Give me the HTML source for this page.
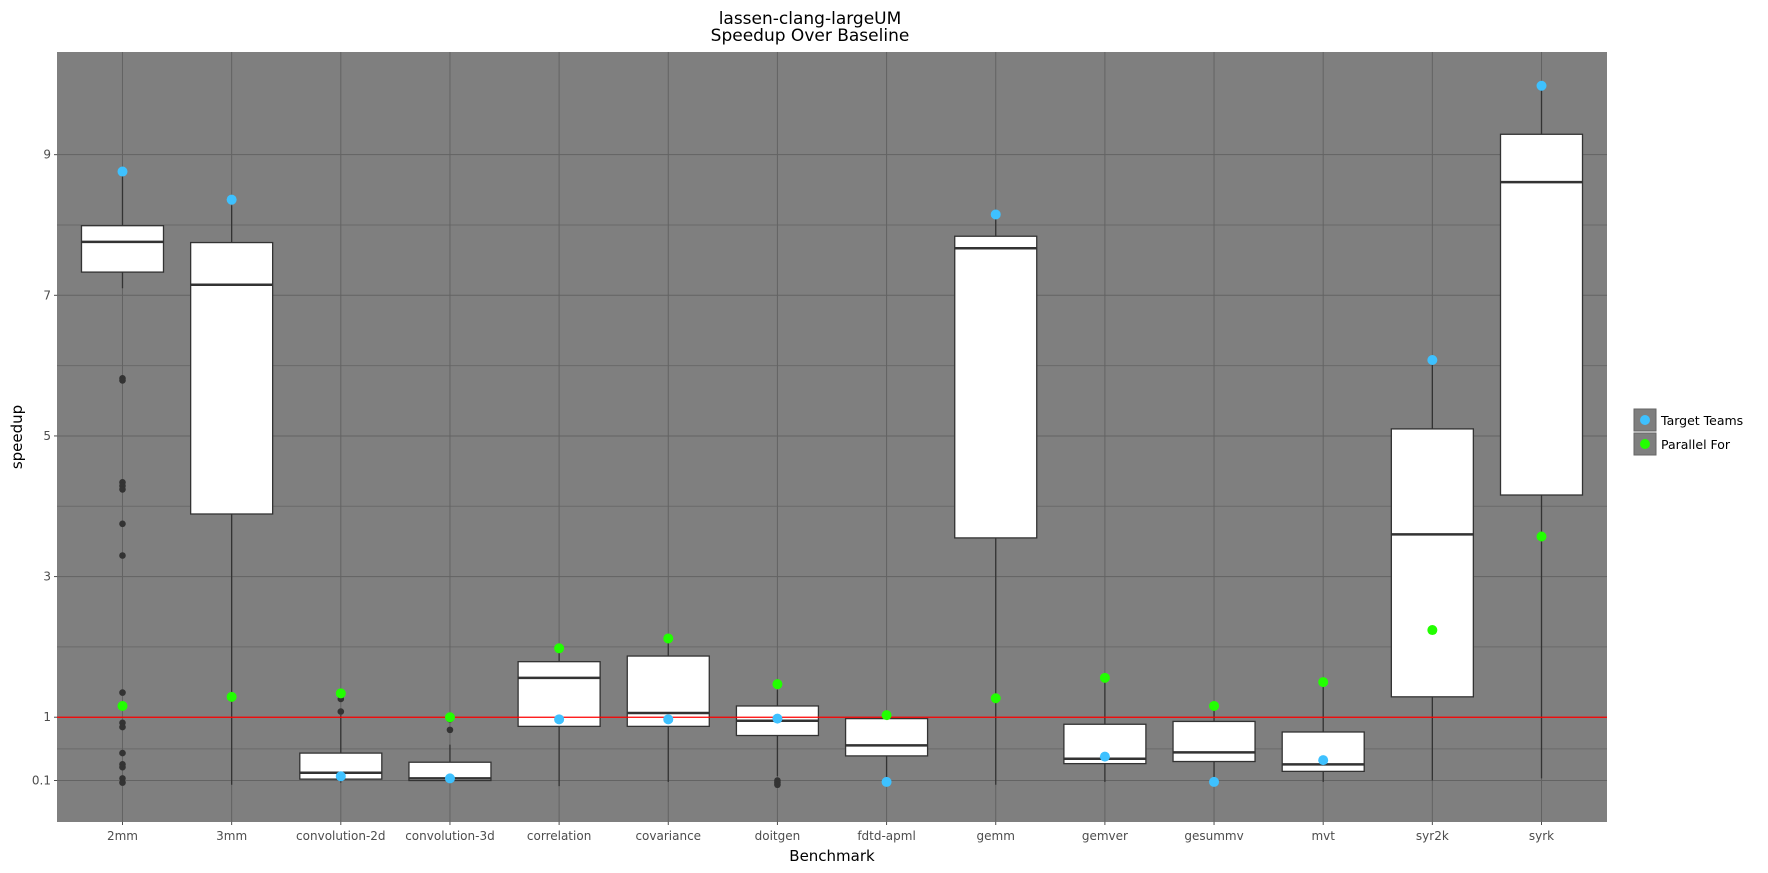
<!DOCTYPE html>
<html><head><meta charset="utf-8"><style>
body{margin:0;background:#fff;}
svg{display:block;font-family:"DejaVu Sans","Liberation Sans",sans-serif;}
</style></head><body>
<svg id="chart" width="1768" height="873" viewBox="0 0 1768 873" xmlns="http://www.w3.org/2000/svg">
<text x="810" y="24" font-size="17" text-anchor="middle">lassen-clang-largeUM</text>
<text x="810" y="41" font-size="17" text-anchor="middle">Speedup Over Baseline</text>
<rect x="57" y="52" width="1550" height="770" fill="#7f7f7f"/>
<g id="grid"></g><g id="boxes"></g><g id="ref"></g><g id="pts"></g><g id="axes"></g>
<text x="832" y="861" font-size="15" text-anchor="middle">Benchmark</text>
<text transform="translate(22,437) rotate(-90)" font-size="15" text-anchor="middle">speedup</text>
<g>
<rect x="1634" y="409" width="22" height="22" fill="#7f7f7f" stroke="#666"/>
<circle cx="1645" cy="420" r="5" fill="#3ec1ff"/>
<text x="1661" y="425" font-size="12.5">Target Teams</text>
<rect x="1634" y="433" width="22" height="22" fill="#7f7f7f" stroke="#666"/>
<circle cx="1645" cy="444" r="5" fill="#22ff00"/>
<text x="1661" y="449" font-size="12.5">Parallel For</text>
</g>
</svg>
<script>
const categories=["2mm","3mm","convolution-2d","convolution-3d","correlation","covariance","doitgen","fdtd-apml","gemm","gemver","gesummv","mvt","syr2k","syrk"];
const q1=[7.33,3.89,0.12,0.10,0.87,0.87,0.74,0.45,3.55,0.34,0.37,0.23,1.29,4.16];
const medians=[7.76,7.15,0.21,0.13,1.56,1.06,0.95,0.60,7.67,0.41,0.50,0.33,3.60,8.61];
const q3=[7.99,7.75,0.49,0.36,1.79,1.87,1.16,0.98,7.84,0.90,0.94,0.79,5.10,9.29];
const whiskerLow=[7.10,0.04,0.07,0.08,0.02,0.08,0.16,0.08,0.04,0.08,0.08,0.08,0.10,0.13];
const whiskerHigh=[8.70,8.28,1.03,0.61,1.93,2.12,1.39,1.03,8.15,1.56,1.16,1.50,6.08,9.98];
const outliers=[[5.82,5.79,4.34,4.29,4.24,3.75,3.30,1.35,0.92,0.86,0.49,0.33,0.29,0.13,0.07],[],[1.26,1.08],[0.82,0.97],[],[],[0.10,0.07,0.04],[],[],[],[],[],[],[]];
const targetTeams=[8.76,8.36,0.16,0.13,0.97,0.97,0.98,0.08,8.15,0.44,0.08,0.39,6.08,9.98];
const parallelFor=[1.16,1.29,1.34,1.00,1.98,2.12,1.47,1.03,1.27,1.56,1.16,1.50,2.24,3.57];
const yTicks=[0.1,1,3,5,7,9];
const yMinor=[0.55,2,4,6,8];

const NS="http://www.w3.org/2000/svg";
const L=57,R=1607,T=52,B=822;
const yMin=-0.49,yMax=10.46;
const xs=i=>L+(i+1-0.4)*(R-L)/14.2;
const ys=v=>B-(v-yMin)*(B-T)/(yMax-yMin);
function mk(p,tag,a){const e=document.createElementNS(NS,tag);for(const k in a)e.setAttribute(k,a[k]);p.appendChild(e);return e;}
const grid=document.getElementById('grid'),boxes=document.getElementById('boxes'),ref=document.getElementById('ref'),pts=document.getElementById('pts'),axes=document.getElementById('axes');
yMinor.forEach(v=>{const l=mk(grid,'line',{x1:L,x2:R,y1:ys(v),y2:ys(v),stroke:'#6a6a6a','stroke-width':1});

});
yTicks.forEach(v=>{const l=mk(grid,'line',{x1:L,x2:R,y1:ys(v),y2:ys(v),stroke:'#636363','stroke-width':1});


const t=mk(axes,'text',{x:L-6,y:ys(v)+4,'font-size':12,'text-anchor':'end',fill:'#4d4d4d'});t.textContent=v;


mk(axes,'line',{x1:L-3,x2:L,y1:ys(v),y2:ys(v),stroke:'#4d4d4d'});});
categories.forEach((c,i)=>{const x=xs(i);
const g=mk(grid,'line',{x1:x,x2:x,y1:T,y2:B,stroke:'#636363','stroke-width':1});


const t=mk(axes,'text',{x:x,y:840,'font-size':12,'text-anchor':'middle',fill:'#4d4d4d'});t.textContent=c;


mk(axes,'line',{x1:x,x2:x,y1:B,y2:B+3,stroke:'#4d4d4d'});
const bg=mk(boxes,'g',{});


const hw=41;
mk(bg,'line',{x1:x,x2:x,y1:ys(whiskerHigh[i]),y2:ys(q3[i]),stroke:'#333','stroke-width':1.3});
mk(bg,'line',{x1:x,x2:x,y1:ys(q1[i]),y2:ys(whiskerLow[i]),stroke:'#333','stroke-width':1.3});
mk(bg,'rect',{x:x-hw,y:ys(q3[i]),width:2*hw,height:Math.max(ys(q1[i])-ys(q3[i]),1),fill:'#fff',stroke:'#333','stroke-width':1.3});
mk(bg,'line',{x1:x-hw,x2:x+hw,y1:ys(medians[i]),y2:ys(medians[i]),stroke:'#333','stroke-width':2.5});
outliers[i].forEach(v=>{const o=mk(bg,'circle',{cx:x,cy:ys(v),r:3.3,fill:'#333'});

});
});
const rl=mk(ref,'line',{x1:L,x2:R,y1:ys(1),y2:ys(1),stroke:'#ff0000','stroke-width':1.3});


categories.forEach((c,i)=>{const x=xs(i);
const a=mk(pts,'circle',{cx:x,cy:ys(targetTeams[i]),r:5,fill:'#3ec1ff'});


const b=mk(pts,'circle',{cx:x,cy:ys(parallelFor[i]),r:5,fill:'#22ff00'});

});
</script>
</body></html>
